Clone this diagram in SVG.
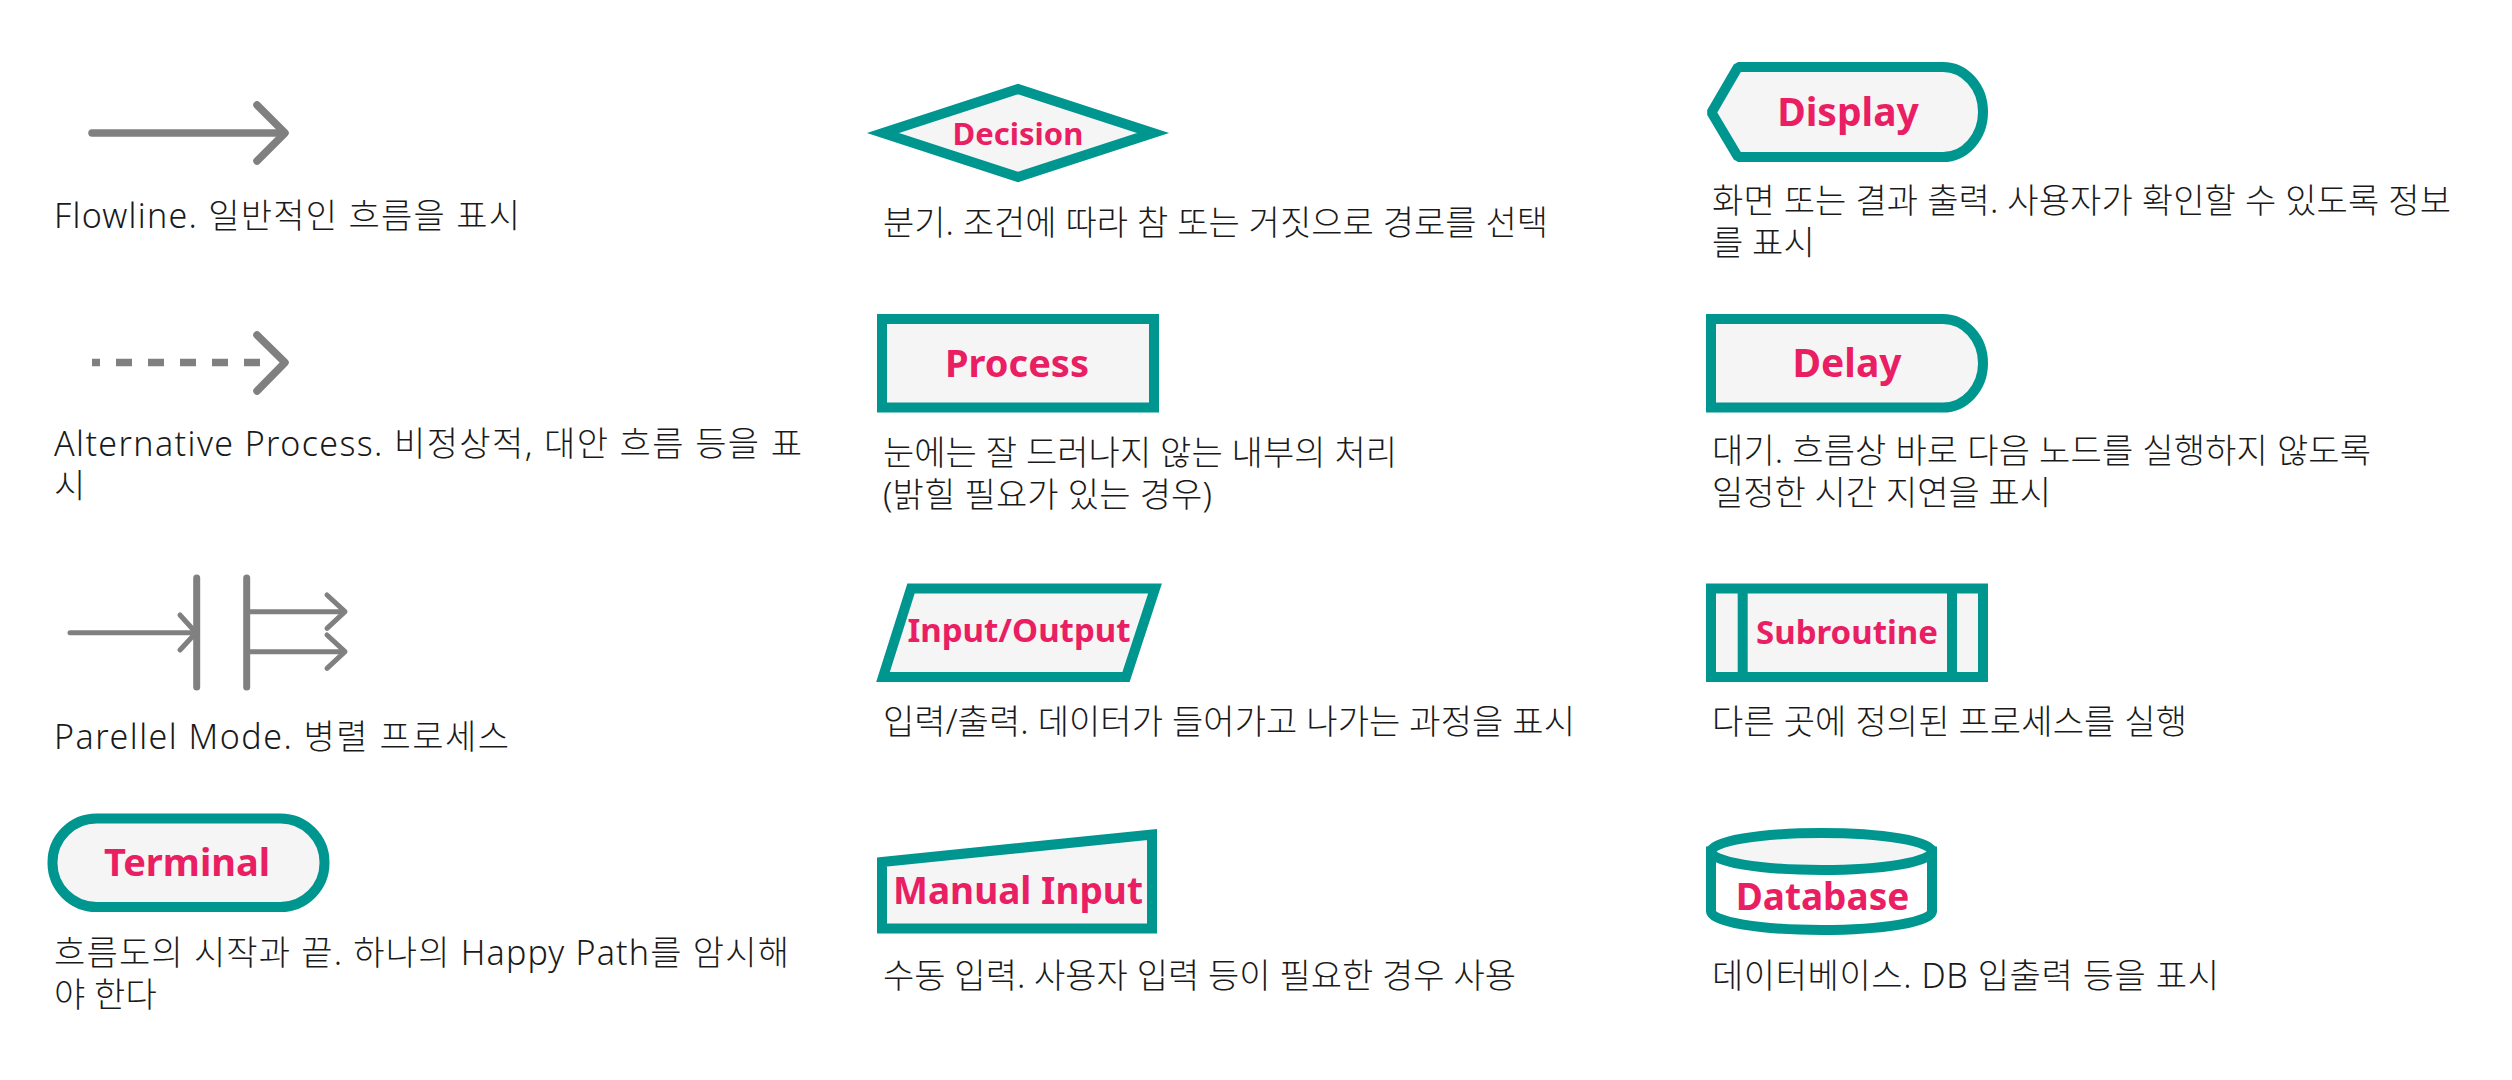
<svg xmlns="http://www.w3.org/2000/svg" width="2512" height="1080" viewBox="0 0 2512 1080">
<style>
.bg{fill:#ffffff}
.desc{font-family:"Noto Sans","Noto Sans CJK KR",sans-serif;font-size:34px;font-weight:300;fill:#1a1a1a}
.lbl{font-family:"Noto Sans","Noto Sans CJK KR",sans-serif;font-weight:700;fill:#E91E63;text-anchor:middle}
.shape{fill:#F5F5F5;stroke:#009690;stroke-width:10;stroke-linejoin:miter}
.white{fill:#ffffff}
.conn{fill:none;stroke:#808080;stroke-linecap:round;stroke-linejoin:round}
.thick{stroke-width:7.5}
.thin{stroke-width:5}
.bar{stroke-width:7}
.dash{stroke-dasharray:16 16;stroke-dashoffset:8;stroke-linecap:butt}
</style>
<rect class="bg" x="0" y="0" width="2512" height="1080"/>

<g id="connectors">
  <g id="flowline-symbol">
    <line class="conn thick" x1="92" y1="133" x2="283" y2="133"/>
    <polyline class="conn thick" points="257,105 285,133 257,161"/>
  </g>
  <g id="alternative-symbol">
    <line class="conn thick dash" x1="92" y1="362.5" x2="262" y2="362.5"/>
    <polyline class="conn thick" points="257,335 285,362.5 257,391"/>
  </g>
  <g id="parallel-symbol">
    <line class="conn thin" x1="70" y1="632.7" x2="194" y2="632.7"/>
    <polyline class="conn thin" points="180,615 196,632.7 180,650"/>
    <line class="conn bar" x1="196.7" y1="578" x2="196.7" y2="687"/>
    <line class="conn bar" x1="246.7" y1="578" x2="246.7" y2="687"/>
    <line class="conn thin" x1="246.7" y1="611.7" x2="343" y2="611.7"/>
    <polyline class="conn thin" points="327,595 345,611.7 327,628.3"/>
    <line class="conn thin" x1="246.7" y1="651.7" x2="343" y2="651.7"/>
    <polyline class="conn thin" points="327,635 345,651.7 327,668.3"/>
  </g>
</g>

<g id="flowline-desc">
  <text class="desc" x="54" y="228" textLength="466">Flowline. 일반적인 흐름을 표시</text>
</g>
<g id="alternative-desc">
  <text class="desc" x="54" y="456" textLength="748">Alternative Process. 비정상적, 대안 흐름 등을 표</text>
  <text class="desc" x="54" y="498">시</text>
</g>
<g id="parallel-desc">
  <text class="desc" x="54" y="749" textLength="455">Parellel Mode. 병렬 프로세스</text>
</g>

<g id="terminal">
  <rect class="shape" x="52.5" y="818.5" width="272" height="88.5" rx="44" ry="44"/>
  <text class="lbl" x="187" y="875.5" font-size="38">Terminal</text>
  <text class="desc" x="54" y="965" textLength="735">흐름도의 시작과 끝. 하나의 Happy Path를 암시해</text>
  <text class="desc" x="54" y="1007">야 한다</text>
</g>

<g id="decision">
  <polygon class="shape" points="883,133 1018,89 1153,133 1018,177"/>
  <text class="lbl" x="1018" y="144.5" font-size="31">Decision</text>
  <text class="desc" x="883" y="235" textLength="665">분기. 조건에 따라 참 또는 거짓으로 경로를 선택</text>
</g>

<g id="process">
  <rect class="shape" x="882" y="319" width="272" height="88.5"/>
  <text class="lbl" x="1017" y="377" font-size="38">Process</text>
  <text class="desc" x="883" y="465" textLength="514">눈에는 잘 드러나지 않는 내부의 처리</text>
  <text class="desc" x="883" y="507" textLength="329">(밝힐 필요가 있는 경우)</text>
</g>

<g id="input-output">
  <polygon class="shape" points="911,588.5 1155,588.5 1126,677 883,677"/>
  <text class="lbl" x="1019" y="642" font-size="33">Input/Output</text>
  <text class="desc" x="883" y="734" textLength="692">입력/출력. 데이터가 들어가고 나가는 과정을 표시</text>
</g>

<g id="manual-input">
  <polygon class="shape" points="882,862 1152,834.5 1152,928.5 882,928.5"/>
  <text class="lbl" x="1018" y="904" font-size="37">Manual Input</text>
  <text class="desc" x="883" y="988" textLength="633">수동 입력. 사용자 입력 등이 필요한 경우 사용</text>
</g>

<g id="display">
  <path class="shape" style="stroke-linejoin:bevel" d="M1711.5,112.5 L1738,67 L1943,67 A40,45 0 0 1 1943,157 L1738,157 Z"/>
  <text class="lbl" x="1848" y="125.5" font-size="39">Display</text>
  <text class="desc" x="1712" y="213" textLength="739">화면 또는 결과 출력. 사용자가 확인할 수 있도록 정보</text>
  <text class="desc" x="1712" y="255">를 표시</text>
</g>

<g id="delay">
  <path class="shape" d="M1711,319 L1943,319 A40,44.25 0 0 1 1943,407.5 L1711,407.5 Z"/>
  <text class="lbl" x="1847" y="377" font-size="39">Delay</text>
  <text class="desc" x="1712" y="463" textLength="659">대기. 흐름상 바로 다음 노드를 실행하지 않도록</text>
  <text class="desc" x="1712" y="505" textLength="339">일정한 시간 지연을 표시</text>
</g>

<g id="subroutine">
  <rect class="shape" x="1711" y="588.5" width="272" height="88.5"/>
  <line class="shape" x1="1742.7" y1="588.5" x2="1742.7" y2="677"/>
  <line class="shape" x1="1952" y1="588.5" x2="1952" y2="677"/>
  <text class="lbl" x="1847" y="643.5" font-size="33">Subroutine</text>
  <text class="desc" x="1712" y="734" textLength="475">다른 곳에 정의된 프로세스를 실행</text>
</g>

<g id="database">
  <path class="shape white" d="M1711,851.5 L1711,911.5 A110.5,18.5 0 0 0 1932,911.5 L1932,851.5 Z"/>
  <ellipse class="shape" cx="1821.5" cy="851.5" rx="110.5" ry="18.5"/>
  <text class="lbl" x="1822.5" y="910" font-size="37">Database</text>
  <text class="desc" x="1712" y="988" textLength="507">데이터베이스. DB 입출력 등을 표시</text>
</g>
</svg>
